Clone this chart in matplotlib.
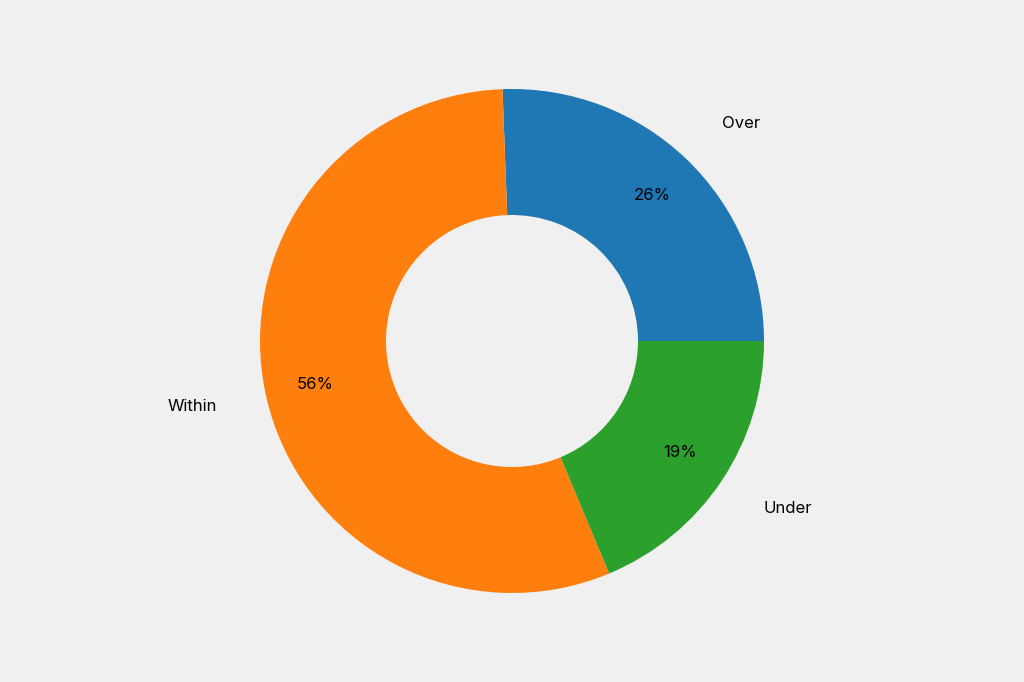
import matplotlib
matplotlib.use("Agg")
import matplotlib.pyplot as plt

labels = ["Over", "Within", "Under"]
values = [25.6, 55.7, 18.7]
colors = ["#1f77b4", "#ff7f0e", "#2ca02c"]

plt.rcParams['font.family'] = ['Inter', 'DejaVu Sans']
fig = plt.figure(figsize=(10.24, 6.82), dpi=100, facecolor="#f0f0f0")
ax = fig.add_axes([0, 0, 1, 1])
ax.set_facecolor("#f0f0f0")
ax.pie(values, labels=labels, colors=colors, autopct="%1.0f%%", startangle=0,
       counterclock=True, labeldistance=1.2, pctdistance=0.8,
       wedgeprops=dict(width=0.5), textprops=dict(fontsize=12))
ax.set_aspect("equal")
h = 341 / 252
ax.set_ylim(-h, h)
ax.set_xlim(-h * 1024 / 682, h * 1024 / 682)
ax.axis("off")
fig.savefig("out.png", dpi=100, facecolor="#f0f0f0")
